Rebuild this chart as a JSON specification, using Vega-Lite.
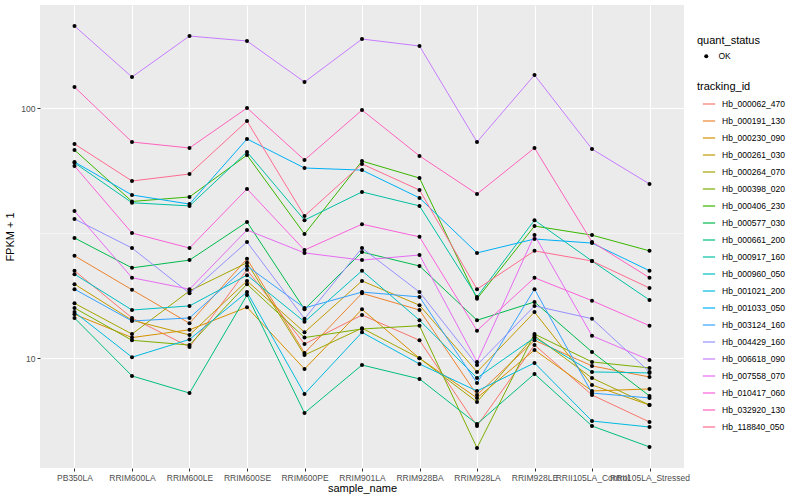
{
"$schema": "https://vega.github.io/schema/vega-lite/v6.json",
"width": 644, "height": 463,
"autosize": {"type": "none"},
"padding": {"left": 40, "top": 5, "right": 116, "bottom": 32},
"background": "white",
"config": {
  "font": "Liberation Sans",
  "view": {"fill": "#EBEBEB", "stroke": null},
  "axis": {"domain": false, "gridColor": "white", "tickColor": "#333333", "tickSize": 3, "tickWidth": 1, "labelColor": "#4D4D4D", "labelFontSize": 8.5, "titleFontSize": 11, "titleFontWeight": "normal", "titleColor": "black"},
  "legend": {"titleFontSize": 11, "titleFontWeight": "normal", "titleColor": "black", "labelFontSize": 8.5, "labelColor": "black", "orient": "none"}
},
"data": {"values": [
{"id":"Hb_000062_470","sample":"PB350LA","v":22.4,"status":"OK"},{"id":"Hb_000062_470","sample":"RRIM600LA","v":14.5,"status":"OK"},{"id":"Hb_000062_470","sample":"RRIM600LE","v":11.1,"status":"OK"},{"id":"Hb_000062_470","sample":"RRIM600SE","v":22.6,"status":"OK"},{"id":"Hb_000062_470","sample":"RRIM600PE","v":11.4,"status":"OK"},{"id":"Hb_000062_470","sample":"RRIM901LA","v":14.9,"status":"OK"},{"id":"Hb_000062_470","sample":"RRIM928BA","v":11.8,"status":"OK"},{"id":"Hb_000062_470","sample":"RRIM928LA","v":5.36,"status":"OK"},{"id":"Hb_000062_470","sample":"RRIM928LE","v":11.3,"status":"OK"},{"id":"Hb_000062_470","sample":"RRII105LA_Control","v":7.13,"status":"OK"},{"id":"Hb_000062_470","sample":"RRII105LA_Stressed","v":5.56,"status":"OK"},
{"id":"Hb_000191_130","sample":"PB350LA","v":25.7,"status":"OK"},{"id":"Hb_000191_130","sample":"RRIM600LA","v":18.8,"status":"OK"},{"id":"Hb_000191_130","sample":"RRIM600LE","v":13.8,"status":"OK"},{"id":"Hb_000191_130","sample":"RRIM600SE","v":25.0,"status":"OK"},{"id":"Hb_000191_130","sample":"RRIM600PE","v":10.5,"status":"OK"},{"id":"Hb_000191_130","sample":"RRIM901LA","v":18.2,"status":"OK"},{"id":"Hb_000191_130","sample":"RRIM928BA","v":15.6,"status":"OK"},{"id":"Hb_000191_130","sample":"RRIM928LA","v":7.13,"status":"OK"},{"id":"Hb_000191_130","sample":"RRIM928LE","v":11.8,"status":"OK"},{"id":"Hb_000191_130","sample":"RRII105LA_Control","v":9.32,"status":"OK"},{"id":"Hb_000191_130","sample":"RRII105LA_Stressed","v":8.42,"status":"OK"},
{"id":"Hb_000230_090","sample":"PB350LA","v":15.0,"status":"OK"},{"id":"Hb_000230_090","sample":"RRIM600LA","v":12.1,"status":"OK"},{"id":"Hb_000230_090","sample":"RRIM600LE","v":13.0,"status":"OK"},{"id":"Hb_000230_090","sample":"RRIM600SE","v":16.0,"status":"OK"},{"id":"Hb_000230_090","sample":"RRIM600PE","v":9.06,"status":"OK"},{"id":"Hb_000230_090","sample":"RRIM901LA","v":15.7,"status":"OK"},{"id":"Hb_000230_090","sample":"RRIM928BA","v":10.0,"status":"OK"},{"id":"Hb_000230_090","sample":"RRIM928LA","v":6.94,"status":"OK"},{"id":"Hb_000230_090","sample":"RRIM928LE","v":10.8,"status":"OK"},{"id":"Hb_000230_090","sample":"RRII105LA_Control","v":7.40,"status":"OK"},{"id":"Hb_000230_090","sample":"RRII105LA_Stressed","v":7.54,"status":"OK"},
{"id":"Hb_000261_030","sample":"PB350LA","v":19.8,"status":"OK"},{"id":"Hb_000261_030","sample":"RRIM600LA","v":14.2,"status":"OK"},{"id":"Hb_000261_030","sample":"RRIM600LE","v":12.4,"status":"OK"},{"id":"Hb_000261_030","sample":"RRIM600SE","v":20.4,"status":"OK"},{"id":"Hb_000261_030","sample":"RRIM600PE","v":12.7,"status":"OK"},{"id":"Hb_000261_030","sample":"RRIM901LA","v":20.4,"status":"OK"},{"id":"Hb_000261_030","sample":"RRIM928BA","v":16.3,"status":"OK"},{"id":"Hb_000261_030","sample":"RRIM928LA","v":8.82,"status":"OK"},{"id":"Hb_000261_030","sample":"RRIM928LE","v":15.3,"status":"OK"},{"id":"Hb_000261_030","sample":"RRII105LA_Control","v":7.82,"status":"OK"},{"id":"Hb_000261_030","sample":"RRII105LA_Stressed","v":6.50,"status":"OK"},
{"id":"Hb_000264_070","sample":"PB350LA","v":16.6,"status":"OK"},{"id":"Hb_000264_070","sample":"RRIM600LA","v":12.5,"status":"OK"},{"id":"Hb_000264_070","sample":"RRIM600LE","v":18.6,"status":"OK"},{"id":"Hb_000264_070","sample":"RRIM600SE","v":24.1,"status":"OK"},{"id":"Hb_000264_070","sample":"RRIM600PE","v":10.3,"status":"OK"},{"id":"Hb_000264_070","sample":"RRIM901LA","v":13.2,"status":"OK"},{"id":"Hb_000264_070","sample":"RRIM928BA","v":10.0,"status":"OK"},{"id":"Hb_000264_070","sample":"RRIM928LA","v":6.69,"status":"OK"},{"id":"Hb_000264_070","sample":"RRIM928LE","v":12.3,"status":"OK"},{"id":"Hb_000264_070","sample":"RRII105LA_Control","v":8.34,"status":"OK"},{"id":"Hb_000264_070","sample":"RRII105LA_Stressed","v":6.50,"status":"OK"},
{"id":"Hb_000398_020","sample":"PB350LA","v":15.9,"status":"OK"},{"id":"Hb_000398_020","sample":"RRIM600LA","v":11.8,"status":"OK"},{"id":"Hb_000398_020","sample":"RRIM600LE","v":11.3,"status":"OK"},{"id":"Hb_000398_020","sample":"RRIM600SE","v":19.8,"status":"OK"},{"id":"Hb_000398_020","sample":"RRIM600PE","v":12.1,"status":"OK"},{"id":"Hb_000398_020","sample":"RRIM901LA","v":13.1,"status":"OK"},{"id":"Hb_000398_020","sample":"RRIM928BA","v":13.5,"status":"OK"},{"id":"Hb_000398_020","sample":"RRIM928LA","v":4.38,"status":"OK"},{"id":"Hb_000398_020","sample":"RRIM928LE","v":12.5,"status":"OK"},{"id":"Hb_000398_020","sample":"RRII105LA_Control","v":9.67,"status":"OK"},{"id":"Hb_000398_020","sample":"RRII105LA_Stressed","v":9.15,"status":"OK"},
{"id":"Hb_000406_230","sample":"PB350LA","v":68.1,"status":"OK"},{"id":"Hb_000406_230","sample":"RRIM600LA","v":42.4,"status":"OK"},{"id":"Hb_000406_230","sample":"RRIM600LE","v":44.2,"status":"OK"},{"id":"Hb_000406_230","sample":"RRIM600SE","v":65.0,"status":"OK"},{"id":"Hb_000406_230","sample":"RRIM600PE","v":31.4,"status":"OK"},{"id":"Hb_000406_230","sample":"RRIM901LA","v":61.5,"status":"OK"},{"id":"Hb_000406_230","sample":"RRIM928BA","v":52.6,"status":"OK"},{"id":"Hb_000406_230","sample":"RRIM928LA","v":17.3,"status":"OK"},{"id":"Hb_000406_230","sample":"RRIM928LE","v":33.8,"status":"OK"},{"id":"Hb_000406_230","sample":"RRII105LA_Control","v":31.1,"status":"OK"},{"id":"Hb_000406_230","sample":"RRII105LA_Stressed","v":26.9,"status":"OK"},
{"id":"Hb_000577_030","sample":"PB350LA","v":30.3,"status":"OK"},{"id":"Hb_000577_030","sample":"RRIM600LA","v":23.0,"status":"OK"},{"id":"Hb_000577_030","sample":"RRIM600LE","v":24.7,"status":"OK"},{"id":"Hb_000577_030","sample":"RRIM600SE","v":35.1,"status":"OK"},{"id":"Hb_000577_030","sample":"RRIM600PE","v":15.7,"status":"OK"},{"id":"Hb_000577_030","sample":"RRIM901LA","v":26.6,"status":"OK"},{"id":"Hb_000577_030","sample":"RRIM928BA","v":23.4,"status":"OK"},{"id":"Hb_000577_030","sample":"RRIM928LA","v":14.2,"status":"OK"},{"id":"Hb_000577_030","sample":"RRIM928LE","v":16.8,"status":"OK"},{"id":"Hb_000577_030","sample":"RRII105LA_Control","v":10.6,"status":"OK"},{"id":"Hb_000577_030","sample":"RRII105LA_Stressed","v":7.07,"status":"OK"},
{"id":"Hb_000661_200","sample":"PB350LA","v":14.5,"status":"OK"},{"id":"Hb_000661_200","sample":"RRIM600LA","v":8.50,"status":"OK"},{"id":"Hb_000661_200","sample":"RRIM600LE","v":7.26,"status":"OK"},{"id":"Hb_000661_200","sample":"RRIM600SE","v":17.9,"status":"OK"},{"id":"Hb_000661_200","sample":"RRIM600PE","v":6.04,"status":"OK"},{"id":"Hb_000661_200","sample":"RRIM901LA","v":9.40,"status":"OK"},{"id":"Hb_000661_200","sample":"RRIM928BA","v":8.27,"status":"OK"},{"id":"Hb_000661_200","sample":"RRIM928LA","v":5.46,"status":"OK"},{"id":"Hb_000661_200","sample":"RRIM928LE","v":8.66,"status":"OK"},{"id":"Hb_000661_200","sample":"RRII105LA_Control","v":5.36,"status":"OK"},{"id":"Hb_000661_200","sample":"RRII105LA_Stressed","v":4.42,"status":"OK"},
{"id":"Hb_000917_160","sample":"PB350LA","v":60.5,"status":"OK"},{"id":"Hb_000917_160","sample":"RRIM600LA","v":41.9,"status":"OK"},{"id":"Hb_000917_160","sample":"RRIM600LE","v":40.7,"status":"OK"},{"id":"Hb_000917_160","sample":"RRIM600SE","v":66.9,"status":"OK"},{"id":"Hb_000917_160","sample":"RRIM600PE","v":35.7,"status":"OK"},{"id":"Hb_000917_160","sample":"RRIM901LA","v":46.3,"status":"OK"},{"id":"Hb_000917_160","sample":"RRIM928BA","v":40.7,"status":"OK"},{"id":"Hb_000917_160","sample":"RRIM928LA","v":17.6,"status":"OK"},{"id":"Hb_000917_160","sample":"RRIM928LE","v":35.7,"status":"OK"},{"id":"Hb_000917_160","sample":"RRII105LA_Control","v":24.5,"status":"OK"},{"id":"Hb_000917_160","sample":"RRII105LA_Stressed","v":17.1,"status":"OK"},
{"id":"Hb_000960_050","sample":"PB350LA","v":21.7,"status":"OK"},{"id":"Hb_000960_050","sample":"RRIM600LA","v":15.6,"status":"OK"},{"id":"Hb_000960_050","sample":"RRIM600LE","v":16.2,"status":"OK"},{"id":"Hb_000960_050","sample":"RRIM600SE","v":21.5,"status":"OK"},{"id":"Hb_000960_050","sample":"RRIM600PE","v":14.0,"status":"OK"},{"id":"Hb_000960_050","sample":"RRIM901LA","v":22.4,"status":"OK"},{"id":"Hb_000960_050","sample":"RRIM928BA","v":14.2,"status":"OK"},{"id":"Hb_000960_050","sample":"RRIM928LA","v":8.34,"status":"OK"},{"id":"Hb_000960_050","sample":"RRIM928LE","v":12.1,"status":"OK"},{"id":"Hb_000960_050","sample":"RRII105LA_Control","v":8.82,"status":"OK"},{"id":"Hb_000960_050","sample":"RRII105LA_Stressed","v":8.74,"status":"OK"},
{"id":"Hb_001021_200","sample":"PB350LA","v":15.3,"status":"OK"},{"id":"Hb_001021_200","sample":"RRIM600LA","v":10.1,"status":"OK"},{"id":"Hb_001021_200","sample":"RRIM600LE","v":11.9,"status":"OK"},{"id":"Hb_001021_200","sample":"RRIM600SE","v":18.4,"status":"OK"},{"id":"Hb_001021_200","sample":"RRIM600PE","v":7.20,"status":"OK"},{"id":"Hb_001021_200","sample":"RRIM901LA","v":12.7,"status":"OK"},{"id":"Hb_001021_200","sample":"RRIM928BA","v":9.49,"status":"OK"},{"id":"Hb_001021_200","sample":"RRIM928LA","v":7.40,"status":"OK"},{"id":"Hb_001021_200","sample":"RRIM928LE","v":9.58,"status":"OK"},{"id":"Hb_001021_200","sample":"RRII105LA_Control","v":5.61,"status":"OK"},{"id":"Hb_001021_200","sample":"RRII105LA_Stressed","v":5.31,"status":"OK"},
{"id":"Hb_001033_050","sample":"PB350LA","v":61.0,"status":"OK"},{"id":"Hb_001033_050","sample":"RRIM600LA","v":45.0,"status":"OK"},{"id":"Hb_001033_050","sample":"RRIM600LE","v":41.4,"status":"OK"},{"id":"Hb_001033_050","sample":"RRIM600SE","v":75.4,"status":"OK"},{"id":"Hb_001033_050","sample":"RRIM600PE","v":57.7,"status":"OK"},{"id":"Hb_001033_050","sample":"RRIM901LA","v":56.6,"status":"OK"},{"id":"Hb_001033_050","sample":"RRIM928BA","v":43.8,"status":"OK"},{"id":"Hb_001033_050","sample":"RRIM928LA","v":26.4,"status":"OK"},{"id":"Hb_001033_050","sample":"RRIM928LE","v":30.0,"status":"OK"},{"id":"Hb_001033_050","sample":"RRII105LA_Control","v":28.9,"status":"OK"},{"id":"Hb_001033_050","sample":"RRII105LA_Stressed","v":22.4,"status":"OK"},
{"id":"Hb_003124_160","sample":"PB350LA","v":18.9,"status":"OK"},{"id":"Hb_003124_160","sample":"RRIM600LA","v":14.1,"status":"OK"},{"id":"Hb_003124_160","sample":"RRIM600LE","v":14.5,"status":"OK"},{"id":"Hb_003124_160","sample":"RRIM600SE","v":23.4,"status":"OK"},{"id":"Hb_003124_160","sample":"RRIM600PE","v":15.9,"status":"OK"},{"id":"Hb_003124_160","sample":"RRIM901LA","v":18.4,"status":"OK"},{"id":"Hb_003124_160","sample":"RRIM928BA","v":17.6,"status":"OK"},{"id":"Hb_003124_160","sample":"RRIM928LA","v":7.96,"status":"OK"},{"id":"Hb_003124_160","sample":"RRIM928LE","v":18.9,"status":"OK"},{"id":"Hb_003124_160","sample":"RRII105LA_Control","v":7.26,"status":"OK"},{"id":"Hb_003124_160","sample":"RRII105LA_Stressed","v":6.94,"status":"OK"},
{"id":"Hb_004429_160","sample":"PB350LA","v":36.1,"status":"OK"},{"id":"Hb_004429_160","sample":"RRIM600LA","v":27.6,"status":"OK"},{"id":"Hb_004429_160","sample":"RRIM600LE","v":18.2,"status":"OK"},{"id":"Hb_004429_160","sample":"RRIM600SE","v":29.2,"status":"OK"},{"id":"Hb_004429_160","sample":"RRIM600PE","v":14.4,"status":"OK"},{"id":"Hb_004429_160","sample":"RRIM901LA","v":27.6,"status":"OK"},{"id":"Hb_004429_160","sample":"RRIM928BA","v":18.4,"status":"OK"},{"id":"Hb_004429_160","sample":"RRIM928LA","v":9.40,"status":"OK"},{"id":"Hb_004429_160","sample":"RRIM928LE","v":16.2,"status":"OK"},{"id":"Hb_004429_160","sample":"RRII105LA_Control","v":14.4,"status":"OK"},{"id":"Hb_004429_160","sample":"RRII105LA_Stressed","v":8.82,"status":"OK"},
{"id":"Hb_006618_090","sample":"PB350LA","v":213.4,"status":"OK"},{"id":"Hb_006618_090","sample":"RRIM600LA","v":133.4,"status":"OK"},{"id":"Hb_006618_090","sample":"RRIM600LE","v":194.6,"status":"OK"},{"id":"Hb_006618_090","sample":"RRIM600SE","v":185.9,"status":"OK"},{"id":"Hb_006618_090","sample":"RRIM600PE","v":127.4,"status":"OK"},{"id":"Hb_006618_090","sample":"RRIM901LA","v":189.3,"status":"OK"},{"id":"Hb_006618_090","sample":"RRIM928BA","v":177.5,"status":"OK"},{"id":"Hb_006618_090","sample":"RRIM928LA","v":73.3,"status":"OK"},{"id":"Hb_006618_090","sample":"RRIM928LE","v":135.9,"status":"OK"},{"id":"Hb_006618_090","sample":"RRII105LA_Control","v":68.7,"status":"OK"},{"id":"Hb_006618_090","sample":"RRII105LA_Stressed","v":49.8,"status":"OK"},
{"id":"Hb_007558_070","sample":"PB350LA","v":38.8,"status":"OK"},{"id":"Hb_007558_070","sample":"RRIM600LA","v":21.0,"status":"OK"},{"id":"Hb_007558_070","sample":"RRIM600LE","v":18.9,"status":"OK"},{"id":"Hb_007558_070","sample":"RRIM600SE","v":32.6,"status":"OK"},{"id":"Hb_007558_070","sample":"RRIM600PE","v":26.4,"status":"OK"},{"id":"Hb_007558_070","sample":"RRIM901LA","v":24.7,"status":"OK"},{"id":"Hb_007558_070","sample":"RRIM928BA","v":25.9,"status":"OK"},{"id":"Hb_007558_070","sample":"RRIM928LA","v":9.67,"status":"OK"},{"id":"Hb_007558_070","sample":"RRIM928LE","v":31.1,"status":"OK"},{"id":"Hb_007558_070","sample":"RRII105LA_Control","v":12.3,"status":"OK"},{"id":"Hb_007558_070","sample":"RRII105LA_Stressed","v":9.84,"status":"OK"},
{"id":"Hb_010417_060","sample":"PB350LA","v":58.8,"status":"OK"},{"id":"Hb_010417_060","sample":"RRIM600LA","v":31.7,"status":"OK"},{"id":"Hb_010417_060","sample":"RRIM600LE","v":27.6,"status":"OK"},{"id":"Hb_010417_060","sample":"RRIM600SE","v":47.6,"status":"OK"},{"id":"Hb_010417_060","sample":"RRIM600PE","v":27.1,"status":"OK"},{"id":"Hb_010417_060","sample":"RRIM901LA","v":34.4,"status":"OK"},{"id":"Hb_010417_060","sample":"RRIM928BA","v":30.6,"status":"OK"},{"id":"Hb_010417_060","sample":"RRIM928LA","v":12.9,"status":"OK"},{"id":"Hb_010417_060","sample":"RRIM928LE","v":21.0,"status":"OK"},{"id":"Hb_010417_060","sample":"RRII105LA_Control","v":17.0,"status":"OK"},{"id":"Hb_010417_060","sample":"RRII105LA_Stressed","v":13.5,"status":"OK"},
{"id":"Hb_032920_130","sample":"PB350LA","v":121.7,"status":"OK"},{"id":"Hb_032920_130","sample":"RRIM600LA","v":73.3,"status":"OK"},{"id":"Hb_032920_130","sample":"RRIM600LE","v":69.4,"status":"OK"},{"id":"Hb_032920_130","sample":"RRIM600SE","v":100.3,"status":"OK"},{"id":"Hb_032920_130","sample":"RRIM600PE","v":62.1,"status":"OK"},{"id":"Hb_032920_130","sample":"RRIM901LA","v":98.4,"status":"OK"},{"id":"Hb_032920_130","sample":"RRIM928BA","v":64.5,"status":"OK"},{"id":"Hb_032920_130","sample":"RRIM928LA","v":45.4,"status":"OK"},{"id":"Hb_032920_130","sample":"RRIM928LE","v":69.4,"status":"OK"},{"id":"Hb_032920_130","sample":"RRII105LA_Control","v":29.2,"status":"OK"},{"id":"Hb_032920_130","sample":"RRII105LA_Stressed","v":21.0,"status":"OK"},
{"id":"Hb_118840_050","sample":"PB350LA","v":72.0,"status":"OK"},{"id":"Hb_118840_050","sample":"RRIM600LA","v":51.2,"status":"OK"},{"id":"Hb_118840_050","sample":"RRIM600LE","v":54.6,"status":"OK"},{"id":"Hb_118840_050","sample":"RRIM600SE","v":88.9,"status":"OK"},{"id":"Hb_118840_050","sample":"RRIM600PE","v":37.1,"status":"OK"},{"id":"Hb_118840_050","sample":"RRIM901LA","v":59.9,"status":"OK"},{"id":"Hb_118840_050","sample":"RRIM928BA","v":47.1,"status":"OK"},{"id":"Hb_118840_050","sample":"RRIM928LA","v":18.9,"status":"OK"},{"id":"Hb_118840_050","sample":"RRIM928LE","v":26.9,"status":"OK"},{"id":"Hb_118840_050","sample":"RRII105LA_Control","v":24.5,"status":"OK"},{"id":"Hb_118840_050","sample":"RRII105LA_Stressed","v":19.1,"status":"OK"}
]},
"encoding": {
  "x": {"field": "sample", "type": "nominal", "sort": ["PB350LA","RRIM600LA","RRIM600LE","RRIM600SE","RRIM600PE","RRIM901LA","RRIM928BA","RRIM928LA","RRIM928LE","RRII105LA_Control","RRII105LA_Stressed"], "scale": {"type": "point", "padding": 0.6}, "axis": {"title": "sample_name", "labelAngle": 0, "labelOverlap": false, "labelBound": false, "grid": true, "gridWidth": 1.1, "labelPadding": 2, "titlePadding": 1}},
  "y": {"field": "v", "type": "quantitative", "scale": {"type": "log", "domain": [3.64, 259], "nice": false}, "axis": {"title": "FPKM + 1", "values": [10, 31.6228, 100], "labelExpr": "datum.value > 20 && datum.value < 50 ? '' : format(datum.value, 'd')", "gridWidth": {"condition": {"test": "datum.value > 20 && datum.value < 50", "value": 0.5}, "value": 1.1}, "tickOpacity": {"condition": {"test": "datum.value > 20 && datum.value < 50", "value": 0}, "value": 1}, "titlePadding": 5, "labelPadding": 2}}
},
"layer": [
  {"mark": {"type": "line", "strokeWidth": 1},
   "encoding": {"color": {"field": "id", "type": "nominal", "title": "tracking_id",
     "scale": {"range": ["#F8766D","#EA8331","#D89000","#C09B00","#A3A500","#7CAE00","#39B600","#00BB4E","#00BF7D","#00C1A3","#00BFC4","#00BAE0","#00B0F6","#35A2FF","#9590FF","#C77CFF","#E76BF3","#FA62DB","#FF62BC","#FF6C91"]},
     "legend": {"symbolType": "stroke", "symbolSize": 150, "symbolStrokeWidth": 1.2, "symbolOffset": 5, "rowPadding": 5, "labelOffset": 6, "legendX": 657, "legendY": 76, "titlePadding": 5}}}},
  {"mark": {"type": "point", "filled": true, "color": "black", "size": 16, "opacity": 1},
   "encoding": {"shape": {"field": "status", "type": "nominal", "title": "quant_status", "scale": {"range": ["circle"]},
     "legend": {"symbolFillColor": "black", "symbolStrokeColor": "black", "symbolSize": 16, "symbolOffset": 5, "labelOffset": 8, "legendX": 657, "legendY": 30, "titlePadding": 6}}}}
]
}
